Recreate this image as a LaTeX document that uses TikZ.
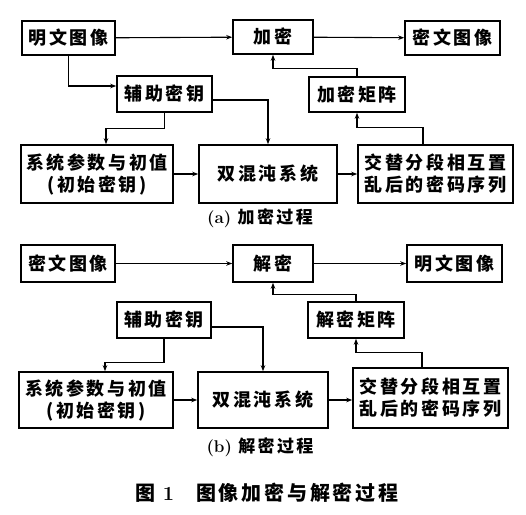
\documentclass[tikz,border=0pt]{standalone}
\usepackage{fontspec}
\newfontfamily\cjk[LetterSpace=14]{Noto Sans CJK SC}
\usetikzlibrary{arrows.meta}

\begin{document}
\begin{tikzpicture}[x=1bp, y=-1bp,
    box/.style={draw, line width=1.6bp, inner sep=0pt, align=center,
        font=\cjk\bfseries\fontsize{18bp}{22bp}\selectfont},
    flow/.style={line width=1.1bp, -{Stealth[length=6bp, width=4.5bp]}}]
                        \useasboundingbox (0,0) rectangle (526,515);
                        % (a) encryption
                        \node[box, minimum width=93bp, minimum height=34bp] (plainA) at (68.5, 38) {明文图像};
                        \node[box, minimum width=80bp, minimum height=34bp] (enc) at (273, 37) {加密};
                        \node[box, minimum width=95bp, minimum height=34bp] (cipherA) at (452.5, 38) {密文图像};
                        \node[box, minimum width=95bp, minimum height=36bp] (auxA) at (164.5, 94) {辅助密钥};
                        \node[box, minimum width=96bp, minimum height=35bp] (matA) at (357, 94.5) {加密矩阵};
                        \node[box, minimum width=152bp, minimum height=58bp] (paramA) at (97, 174) {系统参数与初值\\(初始密钥)};
                        \node[box, minimum width=138bp, minimum height=58bp] (chaosA) at (268, 174) {双混沌系统};
                        \node[box, minimum width=155bp, minimum height=58bp] (seqA) at (435.5, 174) {交替分段相互置\\乱后的密码序列};
                        \node[font=\cjk\bfseries\fontsize{17bp}{20bp}\selectfont] (capA) at (260, 218) {{\normalfont\bfseries (a)} 加密过程};
                        % (b) decryption
                        \node[box, minimum width=94bp, minimum height=37bp] (cipherB) at (68, 263.5) {密文图像};
                        \node[box, minimum width=80bp, minimum height=37bp] (dec) at (273, 263.5) {解密};
                        \node[box, minimum width=95bp, minimum height=37bp] (plainB) at (454.5, 263.5) {明文图像};
                        \node[box, minimum width=94bp, minimum height=36bp] (auxB) at (164, 320) {辅助密钥};
                        \node[box, minimum width=96bp, minimum height=36bp] (matB) at (356, 320) {解密矩阵};
                        \node[box, minimum width=154bp, minimum height=56bp] (paramB) at (96, 400) {系统参数与初值\\(初始密钥)};
                        \node[box, minimum width=130bp, minimum height=56bp] (chaosB) at (263, 400) {双混沌系统};
                        \node[box, minimum width=155bp, minimum height=60bp] (seqB) at (430.5, 398) {交替分段相互置\\乱后的密码序列};
                        \node[font=\cjk\bfseries\fontsize{17bp}{20bp}\selectfont] (capB) at (260, 447) {{\normalfont\bfseries (b)} 解密过程};
                        \node[font=\cjk\bfseries\fontsize{20bp}{24bp}\selectfont] (fig) at (267, 493) {图 {\normalfont\bfseries 1}\hspace{1.1em}图像加密与解密过程};
                        \draw[flow] (plainA) -- (enc);
                        \draw[flow] (enc) -- (cipherA);
                        \draw[flow] (plainA.south) |- ([yshift=8bp]auxA.west);
                        \draw[flow] (auxA.south) -- ++(0,16) -| ([xshift=9bp]paramA.north);
                        \draw[flow] ([yshift=-6bp]auxA.east) -| (chaosA.north);
                        \draw[flow] (paramA) -- (chaosA);
                        \draw[flow] (chaosA) -- (seqA);
                        \draw[flow] ([xshift=-12.5bp]seqA.north) -- ++(0,-17) -| (matA.south);
                        \draw[flow] (matA.north) -- ++(0,-8) -| (enc.south);
                        \draw[flow] (cipherB) -- (dec);
                        \draw[flow] (dec) -- (plainB);
                        \draw[flow] (auxB.south) -- ++(0,24) -| ([xshift=9bp]paramB.north);
                        \draw[flow] ([yshift=-7bp]auxB.east) -| (chaosB.north);
                        \draw[flow] (paramB.east |- chaosB) -- (chaosB);
                        \draw[flow] (chaosB) -- (seqB.west |- chaosB);
                        \draw[flow] ([xshift=-8.5bp]seqB.north) -- ++(0,-15) -| (matB.south);
                        \draw[flow] (matB.north) -- ++(0,-7) -| (dec.south);
\end{tikzpicture}
\end{document}
